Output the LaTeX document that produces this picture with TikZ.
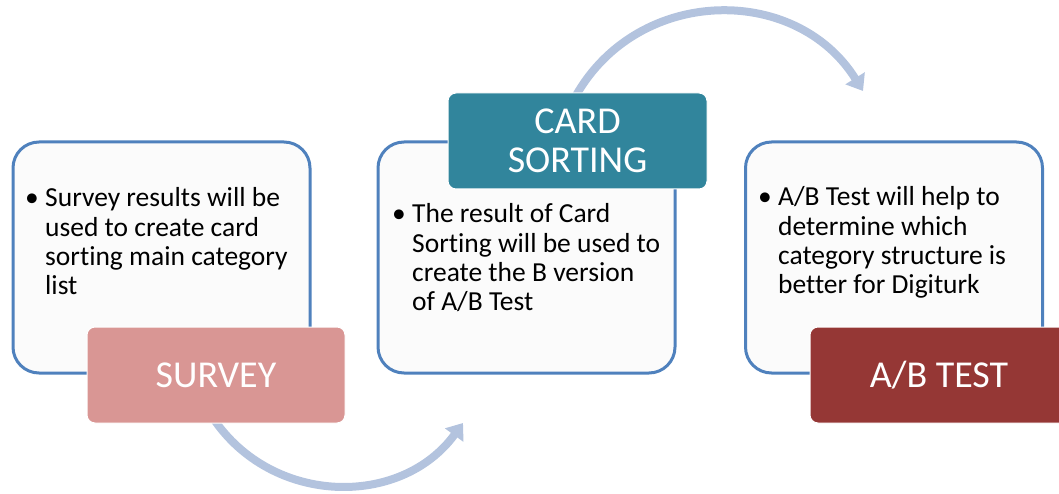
\documentclass[tikz,border=0pt]{standalone}
\usepackage{fontspec}
\setmainfont{Carlito}[Ligatures=NoCommon]
\usetikzlibrary{arrows.meta}
\definecolor{framebl}{HTML}{4F81BD}
\definecolor{flowbl}{HTML}{B3C3DE}
\definecolor{surveyc}{HTML}{D99694}
\definecolor{cardc}{HTML}{31859C}
\definecolor{abc}{HTML}{953735}
\definecolor{panelc}{HTML}{FBFBFB}

\begin{document}
\begin{tikzpicture}[x=1pt,y=-1pt,
  panel/.style={draw=framebl, line width=3pt, fill=panelc, rounded corners=26pt,
    minimum width=297pt, minimum height=231pt, inner sep=0pt},
  tag/.style={draw=white, line width=1pt, rounded corners=8pt,
    minimum width=258pt, minimum height=96pt, inner sep=0pt, text=white,
    align=center, font=\fontsize{38}{42}\selectfont},
  body/.style={anchor=base west, inner sep=0pt, font=\fontsize{27.5}{29.3}\selectfont},
  flow/.style={draw=flowbl, line width=8pt, -{Triangle[width=22pt,length=15pt]}}]

\useasboundingbox (0,0) rectangle (1059,494);
\clip (0,0) rectangle (1059,494);

% stage panels
\node[panel] (p1) at (161.5,257.5) {};
\node[panel] (p2) at (526.5,257.5) {};
\node[panel] (p3) at (894,257.5) {};

% curved flow arrows (their tails hide under the stage tags)
\coordinate (f1a) at (213,418);
\coordinate (f1b) at (463,423);
\coordinate (f2a) at (573,101);
\coordinate (f2b) at (863,91);
\draw[flow] (f1a) .. controls (272,506) and (401,508) .. (f1b);
\draw[flow] (f2a) .. controls (633,-14) and (795,-18) .. (f2b);

% stage tags
\node[tag, fill=surveyc] (survey) at (216,375) {SURVEY};
\node[tag, fill=cardc, minimum width=259pt] (card) at (577.5,141) {CARD\\[-3pt]SORTING};
\node[tag, fill=abc] (ab) at (939,375) {A/B TEST};

% bullet texts with a hanging indent
\newcommand{\bulletline}[1]{\parbox[t]{290pt}{\rightskip=0pt plus 1fil\hangindent=20pt\hangafter=1\noindent\makebox[20pt][l]{•}#1}}
\node[body] (t1) at (25,207) {\bulletline{Survey results will be\newline used to create card\newline sorting main category\newline list}};
\node[body] (t2) at (392,223) {\bulletline{The result of Card\newline Sorting will be used to\newline create the B version\newline of A/B Test}};
\node[body] (t3) at (758,206) {\bulletline{A/B Test will help to\newline determine which\newline category structure is\newline better for Digiturk}};
\end{tikzpicture}
\end{document}
